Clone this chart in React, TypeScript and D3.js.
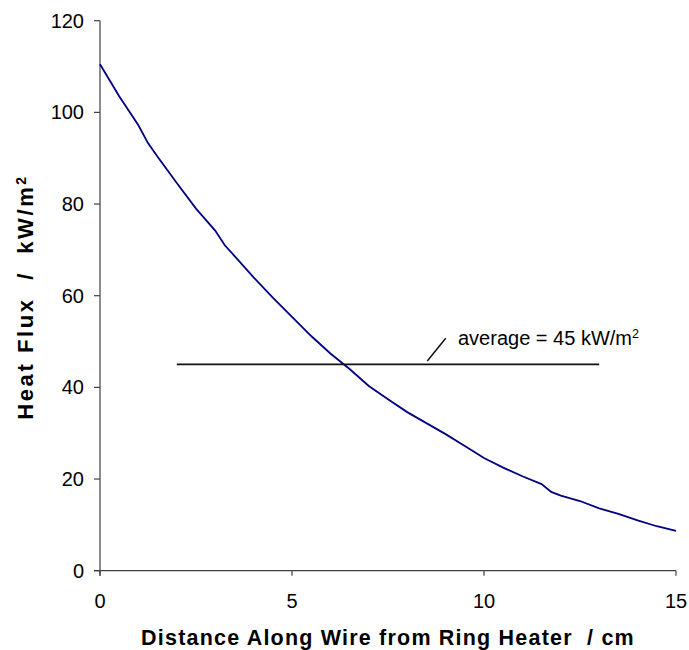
import React from "react";
import * as d3 from "d3";

const distance = [0, 0.5, 1.0, 1.25, 1.5, 2.0, 2.5, 3.0, 3.25, 3.5, 4.0, 4.5, 5.0, 5.5, 6.0, 6.5, 7.0, 7.5, 8.0, 8.5, 9.0, 9.5, 10.0, 10.5, 11.0, 11.5, 11.75, 12.0, 12.5, 13.0, 13.5, 14.0, 14.5, 15.0];
const heatFlux = [110.5, 103.5, 97.2, 93.3, 90.3, 84.6, 79.0, 74.2, 71.0, 68.7, 64.0, 59.6, 55.4, 51.2, 47.4, 44.0, 40.3, 37.4, 34.6, 32.2, 29.8, 27.2, 24.6, 22.5, 20.6, 18.9, 17.2, 16.4, 15.2, 13.6, 12.4, 11.0, 9.7, 8.7];
const xTicks = [0, 5, 10, 15];
const yTicks = [0, 20, 40, 60, 80, 100, 120];
const averageValue = 45;
const averageRange = [2, 13];

export default function App() {
  const W = 689, H = 650;
  const x = d3.scaleLinear().domain([0, 15]).range([100, 676]);
  const y = d3.scaleLinear().domain([0, 120]).range([570.7, 20.7]);
  const pts: [number, number][] = distance.map((d, i) => [d, heatFlux[i]]);
  const line = d3.line<[number, number]>().x(d => x(d[0])).y(d => y(d[1]));
  const font = "Liberation Sans, Arial, sans-serif";
  const ya = y(averageValue);
  return (
    <svg width={W} height={H} style={{ position: "absolute", left: 0, top: 0 }} fontFamily={font}>
      <rect width={W} height={H} fill="#fff" />
      {/* axes */}
      <line x1={x(0)} x2={x(0)} y1={y(120)} y2={y(0) + 5} stroke="#404040" strokeWidth={1.2} />
      <line x1={x(0) - 6} x2={x(15)} y1={y(0)} y2={y(0)} stroke="#404040" strokeWidth={1.2} />
      {yTicks.map(t => (
        <g key={"y" + t}>
          <line x1={x(0) - 6} x2={x(0)} y1={y(t)} y2={y(t)} stroke="#404040" strokeWidth={1.2} />
          <text x={84} y={y(t)} dy="0.35em" textAnchor="end" fontSize={20}>{t}</text>
        </g>
      ))}
      {xTicks.map(t => (
        <g key={"x" + t}>
          <line x1={x(t)} x2={x(t)} y1={y(0)} y2={y(0) + 5} stroke="#404040" strokeWidth={1.2} />
          <text x={x(t)} y={608} textAnchor="middle" fontSize={20}>{t}</text>
        </g>
      ))}
      {/* curve */}
      <path d={line(pts) || ""} fill="none" stroke="#000080" strokeWidth={1.8} />
      {/* average line */}
      <line x1={x(averageRange[0])} x2={x(averageRange[1])} y1={ya} y2={ya} stroke="#111" strokeWidth={1.8} />
      <line x1={427.3} y1={ya - 3.5} x2={445.7} y2={338.3} stroke="#111" strokeWidth={1.5} />
      <text x={458} y={345} fontSize={20}>
        average = {averageValue} kW/m<tspan fontSize={12.5} dy={-7}>2</tspan>
      </text>
      {/* axis titles */}
      <text transform={`translate(33,297) rotate(-90)`} textAnchor="middle" fontSize={22} fontWeight="bold" letterSpacing={2.6} style={{ whiteSpace: "pre" }}>
        {"Heat Flux  /  kW/m"}<tspan fontSize={14} dy={-7}>2</tspan>
      </text>
      <text x={388} y={645} textAnchor="middle" fontSize={21.5} fontWeight="bold" letterSpacing={1.2} style={{ whiteSpace: "pre" }}>
        {"Distance Along Wire from Ring Heater  / cm"}
      </text>
    </svg>
  );
}
